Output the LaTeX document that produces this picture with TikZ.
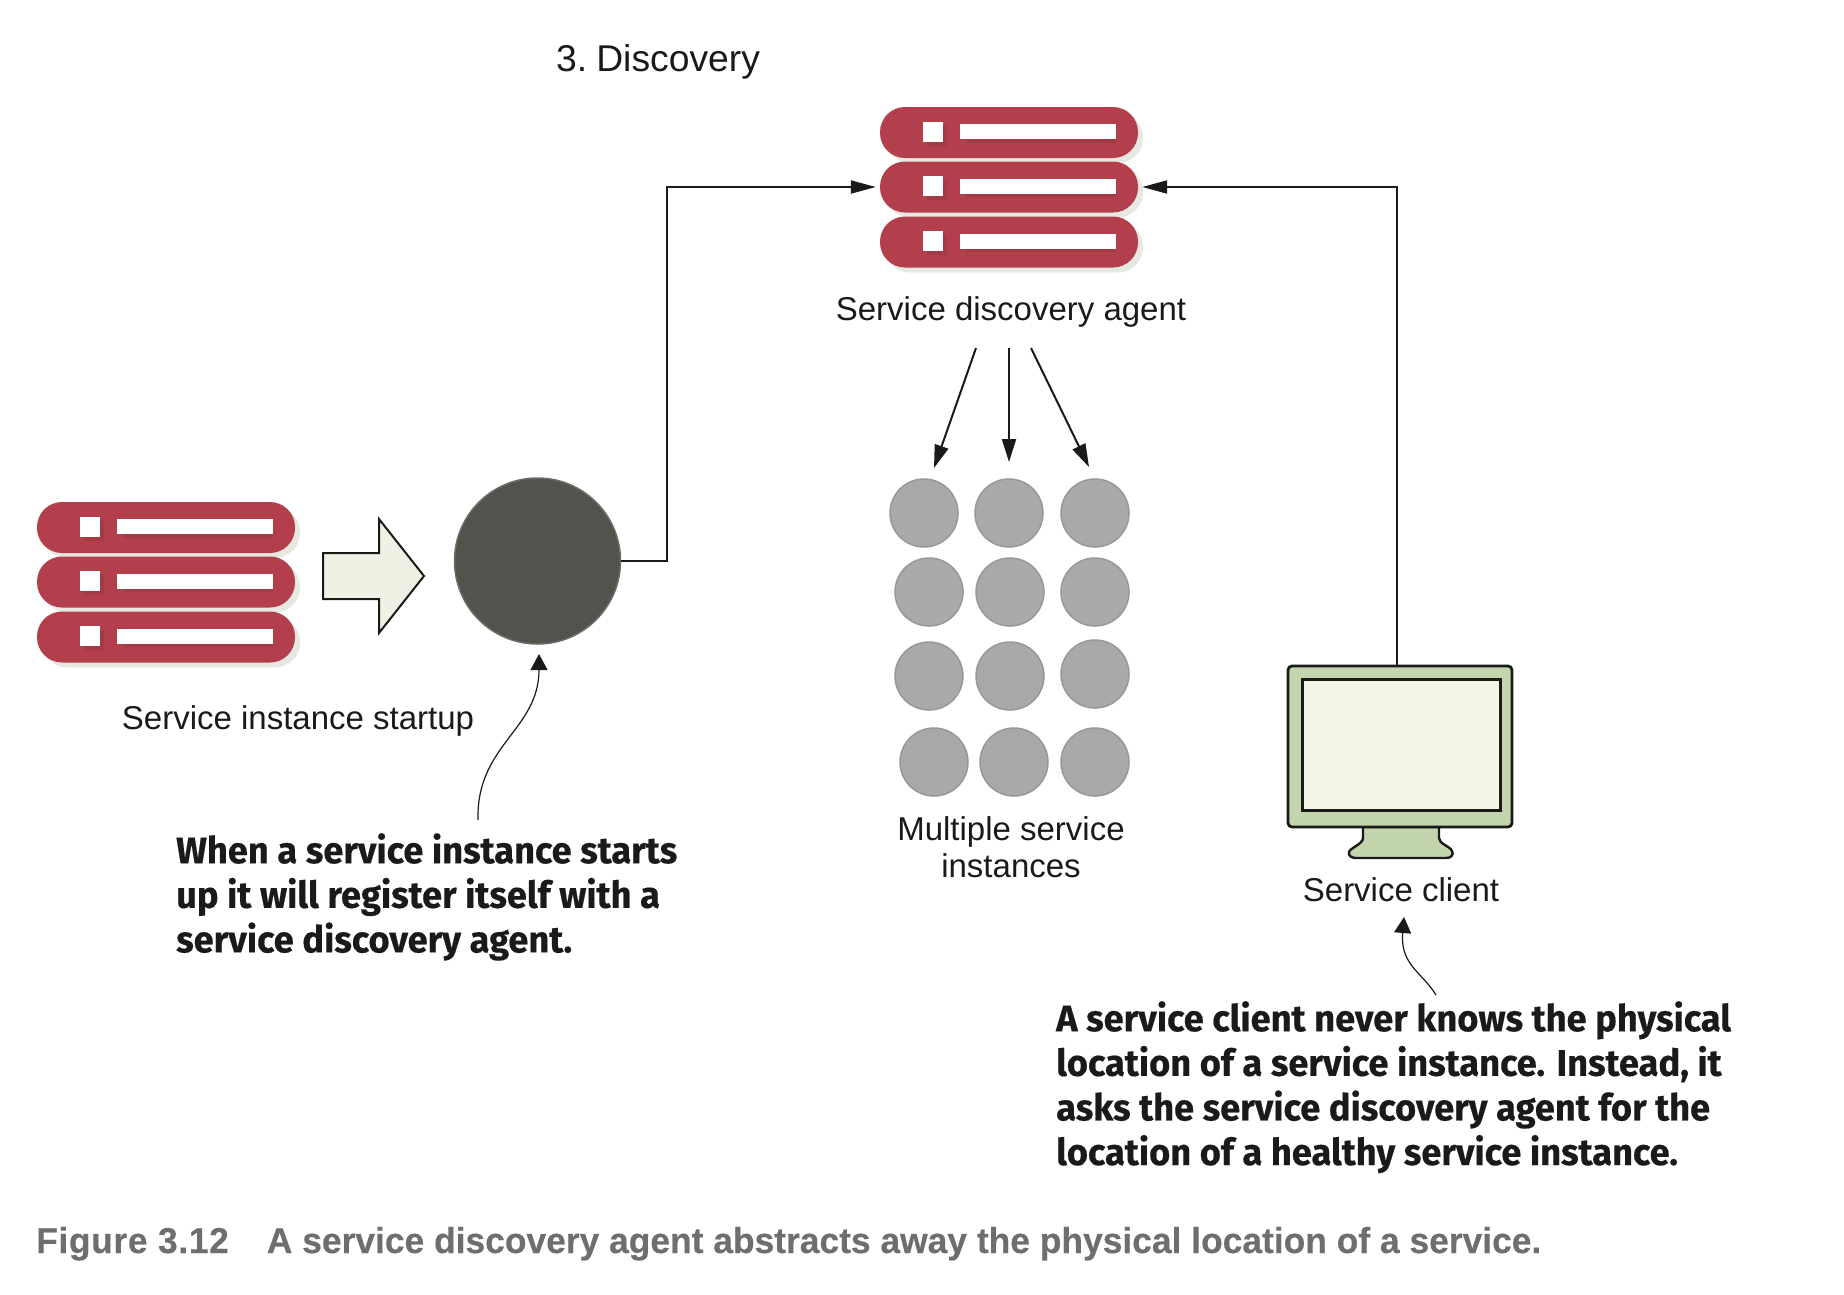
\documentclass[tikz,border=0pt]{standalone}
\usepackage{fontspec}
\setmainfont{Liberation Sans}
\newfontfamily\calloutfont[FakeStretch=0.98,FakeBold=0.4]{Fira Sans Bold}
\newfontfamily\captionfont[FakeStretch=0.983,FakeBold=0.3]{Liberation Sans Bold}
\newfontfamily\captionheadfont[FakeStretch=0.983,FakeBold=0.3,LetterSpace=1.8]{Liberation Sans Bold}
\usetikzlibrary{arrows.meta}
\definecolor{srvred}{HTML}{B23F4B}
\definecolor{srvdark}{HTML}{A23B46}
\definecolor{srvshadow}{HTML}{E8E8E3}
\definecolor{darkcirc}{HTML}{53524D}
\definecolor{graycirc}{HTML}{A9A9A7}
\definecolor{graycircline}{HTML}{989896}
\definecolor{cream}{HTML}{F1F0E4}
\definecolor{monframe}{HTML}{C2D5AD}
\definecolor{monscreen}{HTML}{F3F6E6}
\definecolor{capgray}{HTML}{6E6E6E}
\definecolor{ink}{HTML}{1A1A18}
\tikzset{
  x=1pt,y=-1pt,
  conn/.style={draw=ink,line width=2pt,-{Triangle[length=25pt,width=13pt]},shorten >=4pt},
  down conn/.style={draw=ink,line width=2pt,-{Triangle[length=23pt,width=14pt]}},
  thin conn/.style={draw=ink,line width=1.2pt,-{Triangle[length=16pt,width=17pt]}},
  label/.style={font=\fontsize{33}{37}\selectfont,text=ink,inner sep=0pt,align=center},
  callout/.style={font=\calloutfont\fontsize{37}{44.6}\selectfont,text=ink,inner sep=0pt,align=left,anchor=north west},
  srvrow/.style={fill=srvred,draw=none,rounded corners=25pt,minimum width=258pt,minimum height=51pt,inner sep=0pt},
  srvshade/.style={fill=srvshadow,draw=none,rounded corners=25pt,minimum width=258pt,minimum height=51pt,inner sep=0pt},
  srvsq/.style={fill=white,draw=none,minimum size=20pt,inner sep=0pt},
  srvbar/.style={fill=white,draw=none,minimum width=156pt,minimum height=15pt,inner sep=0pt},
  srvsqs/.style={fill=srvdark,draw=none,minimum size=20pt,inner sep=0pt},
  srvbars/.style={fill=srvdark,draw=none,minimum width=150pt,minimum height=15pt,inner sep=0pt},
  inst/.style={circle,fill=graycirc,draw=graycircline,line width=1.5pt,minimum size=68pt,inner sep=0pt},
  serverstack/.pic={
    \foreach \yy/\nn in {-54.5/a,0/b,55/c}{
      \node[srvshade] (shade\nn) at (5,\yy+5) {};
    }
    \foreach \yy/\nn in {-54.5/a,0/b,55/c}{
      \node[srvrow] (-row\nn) at (0,\yy) {};
      \node[srvsqs] (sqs\nn) at (-72,\yy+3) {};
      \node[srvbars] (bars\nn) at (32,\yy+2.5) {};
      \node[srvsq] (sq\nn) at (-76,\yy-1) {};
      \node[srvbar] (bar\nn) at (29,\yy-1) {};
    }
  },
}
\begin{document}
\begin{tikzpicture}
\useasboundingbox (0,0) rectangle (1844,1294);

\node[anchor=base west,inner sep=0pt,font=\fontsize{37.3}{40}\selectfont,text=ink] (title) at (556,71) {3.\hspace{9pt}Discovery};

\pic (agent) at (1009,187) {serverstack};
\pic (startup) at (166,582) {serverstack};

\node[label] (agentlabel) at (1011,312) {Service discovery agent};
\node[label] (startuplabel) at (298,721) {Service instance startup};
\node[label] (multilabel) at (1011,847) {Multiple service\\instances};
\node[label] (clientlabel) at (1401,890) {Service client};

% block arrow
\draw[draw=ink,line width=2pt,fill=cream,line join=miter]
  (323,553) -- (379,553) -- (379,519) -- (424,576) -- (379,633) -- (379,599) -- (323,599) -- cycle;

\node[circle,fill=darkcirc,draw=darkcirc!85!white,line width=1.5pt,minimum size=166pt,inner sep=0pt] (newinst) at (537.5,561) {};

% instances
\foreach \nn/\cx/\cy in {a1/924/513,a2/1009/513,a3/1095/513,
                         b1/929/592,b2/1010/592,b3/1095/592,
                         c1/929/676,c2/1010/676,c3/1095/674,
                         d1/934/762,d2/1014/762,d3/1095/762}{
  \node[inst] (\nn) at (\cx,\cy) {};
}

% monitor
\fill[monframe,draw=ink,line width=2.4pt]
  (1363,827) -- (1363,838) .. controls (1363,844) and (1350,848) .. (1349,852)
  .. controls (1348,856) and (1352,858) .. (1356,858) -- (1446,858)
  .. controls (1451,858) and (1454,855) .. (1452,851)
  .. controls (1450,846) and (1439,844) .. (1439,838) -- (1439,827) -- cycle;
\node[fill=monframe,draw=ink,line width=2.8pt,rounded corners=4pt,minimum width=224pt,minimum height=161pt,inner sep=0pt] (client) at (1400,746.5) {};
\node[fill=monscreen,draw=ink,line width=3pt,minimum width=198pt,minimum height=131pt,inner sep=0pt] (screen) at (1401,744.5) {};

% connectors
\coordinate (bend1) at (667,561);
\coordinate (clienttop) at (1397,666);
\coordinate (bend2) at (1397,187);
\draw[conn] (newinst.east) -- (bend1) |- (agent-rowb.west);
\draw[conn] (clienttop) -- (bend2) -- (agent-rowb.east);

\coordinate (fa1) at (976,348); \coordinate (ta1) at (934,468);
\coordinate (fa2) at (1009,348); \coordinate (ta2) at (1009,462);
\coordinate (fa3) at (1031,348); \coordinate (ta3) at (1089,467);
\draw[down conn] (fa1) -- (ta1);
\draw[down conn] (fa2) -- (ta2);
\draw[down conn] (fa3) -- (ta3);

\coordinate (c1s) at (478,820); \coordinate (c1e) at (539,654);
\draw[thin conn] (c1s) .. controls (476,745) and (539,730) .. (c1e);
\coordinate (c2s) at (1436,995); \coordinate (c2e) at (1404,917);
\draw[thin conn] (c2s) .. controls (1422,972) and (1400,965) .. (c2e);

\node[callout] (note1) at (176,833) {When a service instance starts\\up it will register itself with a\\service discovery agent.};
\node[callout] (note2) at (1056,1001) {A service client never knows the physical\\location of a service instance. Instead, it\\asks the service discovery agent for the\\location of a healthy service instance.};

\node[anchor=base west,inner sep=0pt,font=\fontsize{36}{38}\selectfont,text=capgray] (caption) at (36,1253) {{\captionheadfont Figure 3.12}\hspace{38pt}{\captionfont A service discovery agent abstracts away the physical location of a service.}};
\end{tikzpicture}
\end{document}
